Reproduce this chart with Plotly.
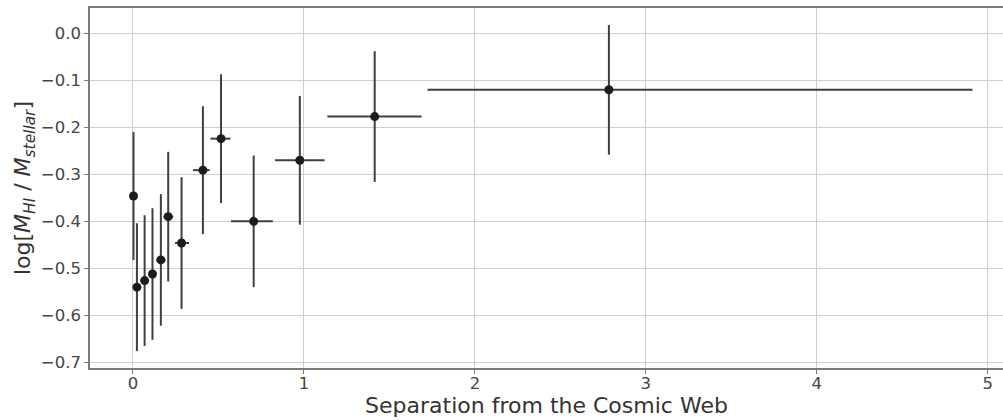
import plotly.graph_objects as go

# Binned HI-to-stellar mass ratio versus distance from the cosmic web
separation = [0.003, 0.023, 0.068, 0.114, 0.163, 0.206, 0.284, 0.409, 0.515, 0.706, 0.976, 1.414, 2.784]
log_ratio = [-0.346, -0.540, -0.526, -0.512, -0.482, -0.390, -0.446, -0.291, -0.224, -0.400, -0.270, -0.177, -0.120]
ratio_err = [0.136, 0.136, 0.139, 0.140, 0.140, 0.138, 0.140, 0.136, 0.137, 0.140, 0.137, 0.139, 0.138]
sep_err_minus = [0.0, 0.0, 0.0, 0.0, 0.027, 0.028, 0.038, 0.058, 0.062, 0.133, 0.145, 0.277, 1.061]
sep_err_plus = [0.0, 0.0, 0.0, 0.0, 0.027, 0.030, 0.044, 0.040, 0.055, 0.112, 0.145, 0.274, 2.127]

x_tick_vals = [0, 1, 2, 3, 4, 5]
x_tick_text = ["0", "1", "2", "3", "4", "5"]
y_tick_vals = [0.0, -0.1, -0.2, -0.3, -0.4, -0.5, -0.6, -0.7]
y_tick_text = ["0.0", "\u22120.1", "\u22120.2", "\u22120.3", "\u22120.4", "\u22120.5", "\u22120.6", "\u22120.7"]

FONT = "DejaVu Sans"
ERR_COLOR = "#3f3f3f"
GRID_COLOR = "#cfcfcf"
SPINE_COLOR = "#7a7a7a"

fig = go.Figure()
fig.add_trace(go.Scatter(
    x=separation,
    y=log_ratio,
    mode="markers",
    marker=dict(color="#1c1c1c", size=9, line=dict(width=0)),
    error_y=dict(type="data", array=ratio_err, visible=True,
                 color=ERR_COLOR, thickness=2, width=0),
    error_x=dict(type="data", array=sep_err_plus, arrayminus=sep_err_minus,
                 symmetric=False, visible=True,
                 color=ERR_COLOR, thickness=2, width=0),
    showlegend=False,
))

fig.update_layout(
    width=1003,
    height=420,
    margin=dict(l=90, r=0, t=8, b=52),
    paper_bgcolor="white",
    plot_bgcolor="white",
    font=dict(family=FONT, color="#404040"),
    xaxis=dict(
        range=[-0.2515, 5.0895],
        tickvals=x_tick_vals,
        ticktext=x_tick_text,
        tickfont=dict(size=16.5, color="#454545"),
        ticks="outside", ticklen=4, tickwidth=1.2, tickcolor=SPINE_COLOR,
        ticklabelstandoff=-5,
        showline=True, linecolor=SPINE_COLOR, linewidth=1.5, mirror=True,
        showgrid=True, gridcolor=GRID_COLOR, gridwidth=1.3,
        zeroline=False,
        title=dict(text="Separation from the Cosmic Web",
                   font=dict(size=22, color="#333333"), standoff=0),
    ),
    yaxis=dict(
        range=[-0.712, 0.054],
        tickvals=y_tick_vals,
        ticktext=y_tick_text,
        tickfont=dict(size=16.5, color="#454545"),
        ticks="outside", ticklen=4, tickwidth=1.2, tickcolor=SPINE_COLOR,
        showline=True, linecolor=SPINE_COLOR, linewidth=1.5, mirror=False,
        showgrid=True, gridcolor=GRID_COLOR, gridwidth=1.3,
        zeroline=False,
        title=dict(text="log[<i>M</i><sub><i>HI</i></sub> / <i>M</i><sub><i>stellar</i></sub>]",
                   font=dict(size=22, color="#333333"), standoff=4),
    ),
)

fig.write_html("out.html")
